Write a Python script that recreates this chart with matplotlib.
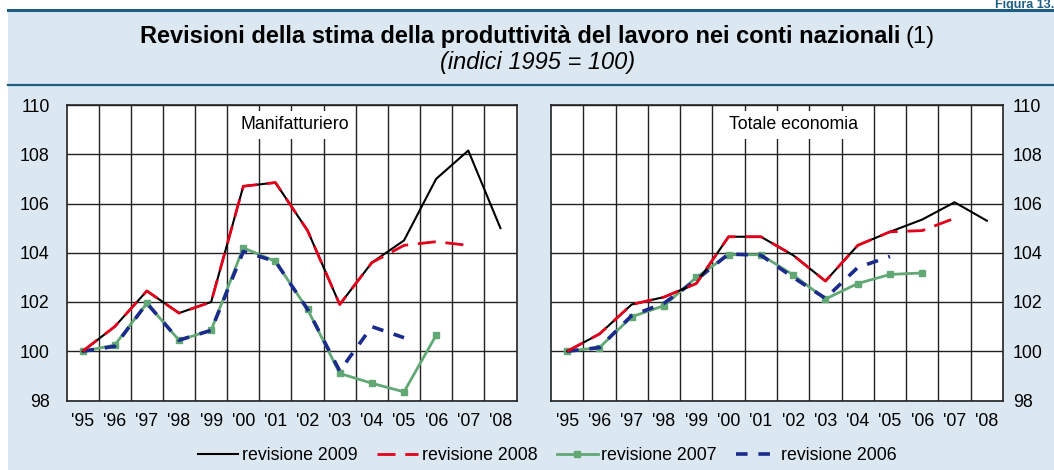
import matplotlib.pyplot as plt
import numpy as np
from matplotlib.lines import Line2D
from matplotlib.patches import Rectangle

plt.rcParams['font.family'] = ['Liberation Sans', 'DejaVu Sans']

anni = ["'95", "'96", "'97", "'98", "'99", "'00", "'01", "'02", "'03", "'04", "'05", "'06", "'07", "'08"]

# Manifatturiero
man_2009 = [100.0, 101.0, 102.45, 101.55, 102.0, 106.7, 106.85, 104.9, 101.9, 103.6, 104.5, 107.0, 108.15, 105.0]
man_2008 = [100.0, 101.0, 102.45, 101.55, 102.0, 106.7, 106.85, 104.9, 101.9, 103.6, 104.3, 104.45, 104.3]
man_2007 = [100.0, 100.25, 101.95, 100.45, 100.85, 104.2, 103.65, 101.7, 99.1, 98.7, 98.35, 100.65]
man_2006 = [100.0, 100.2, 101.95, 100.45, 100.85, 104.05, 103.65, 101.7, 99.2, 101.0, 100.55]

# Totale economia
tot_2009 = [100.0, 100.7, 101.9, 102.2, 102.75, 104.65, 104.65, 103.9, 102.85, 104.3, 104.85, 105.35, 106.05, 105.3]
tot_2008 = [100.0, 100.7, 101.9, 102.2, 102.75, 104.65, 104.65, 103.9, 102.85, 104.3, 104.85, 104.9, 105.4]
tot_2007 = [100.0, 100.15, 101.4, 101.85, 103.0, 103.92, 103.92, 103.1, 102.12, 102.75, 103.12, 103.18]
tot_2006 = [100.0, 100.15, 101.45, 101.95, 102.9, 103.95, 103.9, 103.0, 102.15, 103.4, 103.85]

W, H = 1054, 470
BG = '#dce8f1'
BLU = '#1d5e85'

fig = plt.figure(figsize=(W / 100, H / 100), dpi=100)
fig.patch.set_facecolor('white')
fig.add_artist(Rectangle((8 / W, 0), 1, 1 - 10 / H, transform=fig.transFigure,
                         facecolor=BG, edgecolor='none', zorder=-5))
fig.add_artist(Line2D([8 / W, 1], [1 - 10 / H] * 2, transform=fig.transFigure, color=BLU, lw=2.2))
fig.add_artist(Line2D([8 / W, 1], [1 - 85 / H] * 2, transform=fig.transFigure, color=BLU, lw=1.6))

fig.text(1.0, 1 - 8 / H, 'Figura 13.', ha='right', va='baseline', fontsize=9,
         fontweight='bold', color=BLU)

# titolo: parte in grassetto + "(1)" normale
xc = 538 / W
t1 = fig.text(xc, 1 - 42.5 / H, 'Revisioni della stima della produttività del lavoro nei conti nazionali',
              ha='center', va='baseline', fontsize=17, fontweight='bold')
fig.text(xc, 1 - 69 / H, '(indici 1995 = 100)', ha='center', va='baseline', fontsize=17, style='italic')

r = fig.canvas.get_renderer()
extra = 36
t1.set_position((xc - extra / 2 / W, 1 - 42.5 / H))
bb = t1.get_window_extent(r)
fig.text(bb.x1 / W + 5 / W, 1 - 42.5 / H, '(1)', ha='left', va='baseline', fontsize=17)


def pannello(left, width, s09, s08, s07, s06, titolo, tx, destra=False):
    ax = fig.add_axes([left / W, 1 - 400.5 / H, width / W, 295.5 / H])
    ax.set_facecolor('white')
    x = np.arange(len(anni))
    ax.plot(x[:len(s09)], s09, color='black', lw=1.5, label='revisione 2009', zorder=4)
    ax.plot(x[:len(s08)], s08, color='#e2001a', lw=2, dashes=(6.5, 3.5), label='revisione 2008', zorder=5)
    ax.plot(x[:len(s07)], s07, color='#62a875', lw=2, marker='s', markersize=4.5,
            label='revisione 2007', zorder=3)
    ax.plot(x[:len(s06)], s06, color='#1a2b8c', lw=2.6, dashes=(3.2, 3), label='revisione 2006', zorder=3.5)
    ax.set_xlim(-0.5, 13.5)
    ax.set_ylim(98, 110)
    ax.set_yticks(np.arange(98, 111, 2))
    ax.set_xticks(x)
    ax.set_xticklabels(anni)
    ax.set_xticks(x[:-1] + 0.5, minor=True)
    ax.grid(True, which='minor', axis='x', color='#222222', lw=1)
    ax.grid(True, which='major', axis='y', color='#222222', lw=1)
    ax.tick_params(which='both', length=0, labelsize=12.8)
    ax.tick_params(axis='x', pad=9)
    if destra:
        ax.yaxis.tick_right()
        ax.tick_params(axis='y', pad=7)
    else:
        ax.tick_params(axis='y', pad=12)
    for s in ax.spines.values():
        s.set_color('#222222')
        s.set_linewidth(1.2)
    ax.text(tx, 109.2, titolo, ha='center', va='center', fontsize=12.8, zorder=6,
            bbox=dict(facecolor='white', edgecolor='none', pad=4))
    ax.set_axisbelow(True)
    return ax


ax1 = pannello(66.5, 450, man_2009, man_2008, man_2007, man_2006, 'Manifatturiero', 6.6)
ax2 = pannello(551, 452, tot_2009, tot_2008, tot_2007, tot_2006, 'Totale economia', 7.0, destra=True)

h, l = ax1.get_legend_handles_labels()
fig.legend(h, l, loc='center', bbox_to_anchor=(547 / W, 14 / H), ncol=4, frameon=False,
           fontsize=12.8, handlelength=2.3, handletextpad=0.2, columnspacing=1.1)

fig.savefig('out.png', dpi=100, facecolor=fig.get_facecolor())
